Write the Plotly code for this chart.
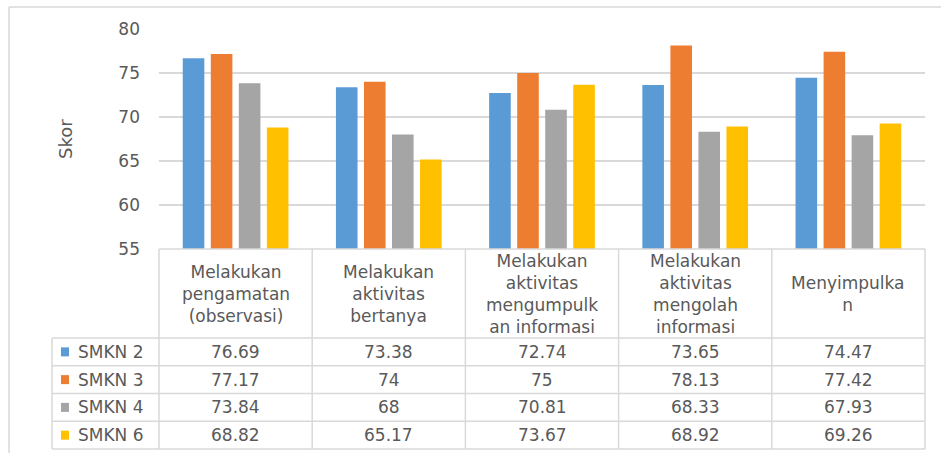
import plotly.graph_objects as go

# ---------------- data ----------------
categories = [
    "Melakukan<br>pengamatan<br>(observasi)",
    "Melakukan<br>aktivitas<br>bertanya",
    "Melakukan<br>aktivitas<br>mengumpulk<br>an informasi",
    "Melakukan<br>aktivitas<br>mengolah<br>informasi",
    "Menyimpulka<br>n",
]
series_names = ["SMKN 2", "SMKN 3", "SMKN 4", "SMKN 6"]
smkn2 = [76.69, 73.38, 72.74, 73.65, 74.47]
smkn3 = [77.17, 74, 75, 78.13, 77.42]
smkn4 = [73.84, 68, 70.81, 68.33, 67.93]
smkn6 = [68.82, 65.17, 73.67, 68.92, 69.26]
y_ticks = [55, 60, 65, 70, 75, 80]
y_title = "Skor"

series_values = [smkn2, smkn3, smkn4, smkn6]
colors = ["#5B9BD5", "#ED7D31", "#A5A5A5", "#FFC000"]

# ---------------- layout geometry (pixels) ----------------
W, H = 941, 453
FONT = "DejaVu Sans"
FS = 17
TXT = "#595959"
GRID = "#D9D9D9"
plot_left, plot_right = 159, 925
plot_top, plot_bottom = 29, 249
table_bottom = 449
header_h = 89
legend_left = 52
n_cat = len(categories)
cat_w = (plot_right - plot_left) / n_cat
leg_units = (plot_left - legend_left) / cat_w
table_h = table_bottom - plot_bottom
rows_h = table_h - header_h
row_h = rows_h / len(series_names)
pad = 3

x = list(range(n_cat))

fig = go.Figure()
for name, vals, c in zip(series_names, series_values, colors):
    fig.add_trace(go.Bar(x=x, y=vals, name=name, marker=dict(color=c, line=dict(width=0)),
                         xaxis="x", yaxis="y", showlegend=False))
# invisible trace for table subplot
fig.add_trace(go.Scatter(x=[], y=[], xaxis="x2", yaxis="y2", showlegend=False, hoverinfo="skip"))

x2_lo = -0.5 - leg_units
shapes = []
annotations = []

def hline(y, x0, x1):
    shapes.append(dict(type="line", xref="x2", yref="y2", x0=x0, x1=x1, y0=y, y1=y,
                       line=dict(color=GRID, width=1.5)))

def vline(xv, y0, y1):
    shapes.append(dict(type="line", xref="x2", yref="y2", x0=xv, x1=xv, y0=y0, y1=y1,
                       line=dict(color=GRID, width=1.5)))

# table grid
hline(table_h, -0.5, n_cat - 0.5)
for i in range(len(series_names) + 1):
    hline(rows_h - i * row_h, x2_lo, n_cat - 0.5)
vline(x2_lo, 0, rows_h)
for k in range(n_cat + 1):
    vline(k - 0.5, 0, table_h)

# header text
for k, cat in enumerate(categories):
    annotations.append(dict(xref="x2", yref="y2", x=k, y=rows_h + header_h / 2, text=cat,
                            showarrow=False, font=dict(family=FONT, size=FS, color=TXT),
                            align="center", xanchor="center", yanchor="middle"))

# rows
for i, (name, vals, c) in enumerate(zip(series_names, series_values, colors)):
    yc = rows_h - (i + 0.5) * row_h
    shapes.append(dict(type="rect", xref="x2", yref="y2",
                       x0=x2_lo + 9 / cat_w, x1=x2_lo + 17 / cat_w, y0=yc - 4.5, y1=yc + 4.5,
                       fillcolor=c, line=dict(width=0)))
    annotations.append(dict(xref="x2", yref="y2", x=x2_lo + 24 / cat_w, y=yc, text=name,
                            showarrow=False, xanchor="left", yanchor="middle",
                            font=dict(family=FONT, size=FS, color=TXT)))
    for k, v in enumerate(vals):
        annotations.append(dict(xref="x2", yref="y2", x=k, y=yc, text=f"{v:g}",
                                showarrow=False, xanchor="center", yanchor="middle",
                                font=dict(family=FONT, size=FS, color=TXT)))

# y title
annotations.append(dict(xref="paper", yref="paper", x=65 / W, y=1 - (plot_top + plot_bottom) / 2 / H,
                        text=y_title, textangle=-90, showarrow=False,
                        xanchor="center", yanchor="middle",
                        font=dict(family=FONT, size=18, color=TXT)))

# outer frame
shapes.append(dict(type="line", xref="paper", yref="paper", x0=9 / W, x1=1, y0=1 - 7 / H, y1=1 - 7 / H,
                   line=dict(color=GRID, width=1.5)))
shapes.append(dict(type="line", xref="paper", yref="paper", x0=9 / W, x1=9 / W, y0=0, y1=1 - 7 / H,
                   line=dict(color=GRID, width=1.5)))

fig.update_layout(
    template="none",
    width=W, height=H,
    margin=dict(l=0, r=0, t=0, b=0, pad=0),
    paper_bgcolor="white", plot_bgcolor="rgba(0,0,0,0)",
    barmode="group", bargap=0.268, bargroupgap=0.23,
    font=dict(family=FONT, color=TXT),
    xaxis=dict(domain=[plot_left / W, plot_right / W], range=[-0.5, n_cat - 0.5],
               visible=False, anchor="y", automargin=False),
    yaxis=dict(domain=[1 - plot_bottom / H, 1 - plot_top / H], range=[y_ticks[0], y_ticks[-1]],
               tickvals=y_ticks, showgrid=True, gridcolor=GRID, gridwidth=1.5,
               zeroline=False, showline=False, ticks="", ticklabelstandoff=18,
               tickfont=dict(family=FONT, size=FS, color=TXT), anchor="x", automargin=False),
    xaxis2=dict(domain=[(legend_left - pad) / W, (plot_right + pad) / W],
                range=[x2_lo - pad / cat_w, n_cat - 0.5 + pad / cat_w],
                visible=False, anchor="y2", automargin=False),
    yaxis2=dict(domain=[(H - table_bottom - pad) / H, (H - plot_bottom + pad) / H],
                range=[-pad, table_h + pad], visible=False, anchor="x2", automargin=False),
    shapes=shapes,
    annotations=annotations,
)

fig.write_html("out.html", config={"displayModeBar": False},
               post_script="document.body.style.margin='0px';document.body.style.overflow='hidden';")
